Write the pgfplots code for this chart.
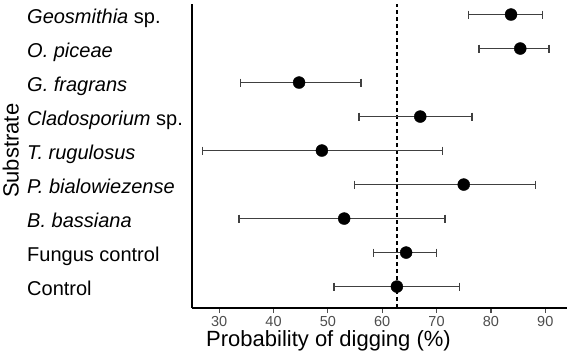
\documentclass[border=0pt]{standalone}
\usepackage{pgfplots}
\pgfplotsset{compat=1.18}
\usepackage{fontspec}
\setmainfont{Liberation Sans}
\definecolor{gray30}{HTML}{4D4D4D}
\definecolor{errc}{HTML}{404040}
\pgfplotstableread{
y x
9 83.7
8 85.4
7 44.7
6 67.0
5 48.9
4 75.0
3 53.0
2 64.4
1 62.7
}\datatable
\begin{document}
\begin{tikzpicture}
\begin{axis}[
  at={(0,0)}, anchor=south west,
  scale only axis, width=375pt, height=304pt,
  xmin=25, xmax=94, ymin=0.37, ymax=9.31,
  axis lines=left, axis line style={-, line width=1.6pt, black},
  xtick={30,40,50,60,70,80,90},
  tick align=outside,
  xtick style={line width=1.2pt, gray30},
  major tick length=5pt,
  ytick={1,2,3,4,5,6,7,8,9},
  yticklabels={Control, Fungus control, \textit{B. bassiana}, \textit{P. bialowiezense}, \textit{T. rugulosus}, \textit{Cladosporium} sp., \textit{G. fragrans}, \textit{O. piceae}, \textit{Geosmithia} sp.},
  ytick style={draw=none},
  yticklabel style={anchor=base west, inner sep=0pt, xshift=-160pt, yshift=-9pt, font=\fontsize{20}{24}\selectfont, text=black},
  xticklabel style={font=\fontsize{14.5}{17}\selectfont, text=gray30},
  /pgf/number format/assume math mode=true,
  xlabel={Probability of digging (\%)},
  xlabel style={at={(axis description cs:0.364,-0.127)}, anchor=base, font=\fontsize{22}{26}\selectfont},
  ylabel={Substrate},
  ylabel style={at={(axis description cs:-0.483,0.517)}, anchor=center, rotate=0, font=\fontsize{22}{26}\selectfont},
  clip=false,
]
\addplot[black, dashed, line width=1.3pt, dash pattern=on 4pt off 3pt] coordinates {(62.7,0.37) (62.7,9.31)};
\addplot[errc, line width=1.6pt, mark=|, mark size=4pt, mark options={solid, line width=1.6pt}] coordinates {(75.9,9) (89.5,9)};
\addplot[errc, line width=1.6pt, mark=|, mark size=4pt, mark options={solid, line width=1.6pt}] coordinates {(77.8,8) (90.7,8)};
\addplot[errc, line width=1.6pt, mark=|, mark size=4pt, mark options={solid, line width=1.6pt}] coordinates {(33.9,7) (56.1,7)};
\addplot[errc, line width=1.6pt, mark=|, mark size=4pt, mark options={solid, line width=1.6pt}] coordinates {(55.7,6) (76.5,6)};
\addplot[errc, line width=1.6pt, mark=|, mark size=4pt, mark options={solid, line width=1.6pt}] coordinates {(26.9,5) (71.1,5)};
\addplot[errc, line width=1.6pt, mark=|, mark size=4pt, mark options={solid, line width=1.6pt}] coordinates {(54.9,4) (88.2,4)};
\addplot[errc, line width=1.6pt, mark=|, mark size=4pt, mark options={solid, line width=1.6pt}] coordinates {(33.7,3) (71.5,3)};
\addplot[errc, line width=1.6pt, mark=|, mark size=4pt, mark options={solid, line width=1.6pt}] coordinates {(58.4,2) (70.0,2)};
\addplot[errc, line width=1.6pt, mark=|, mark size=4pt, mark options={solid, line width=1.6pt}] coordinates {(51.1,1) (74.2,1)};
\addplot[only marks, mark=*, mark size=6pt, black] table[x=x, y=y] {\datatable};
\end{axis}
\pgfresetboundingbox
\path[use as bounding box] (-192pt,-46pt) rectangle (378pt,308pt);
\end{tikzpicture}
\end{document}
